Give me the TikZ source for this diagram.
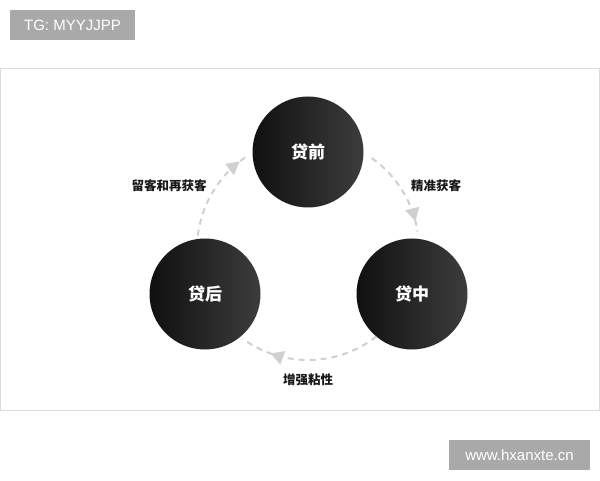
\documentclass[tikz,border=0pt]{standalone}
\usepackage{fontspec}
\setmainfont{Liberation Sans}
\newfontfamily\cjk{Noto Sans CJK SC}
\usetikzlibrary{arrows.meta,decorations.markings}
\definecolor{dashgray}{HTML}{D0D0D0}
\definecolor{framegray}{HTML}{DCDCDC}
\definecolor{tagbg}{HTML}{A9A9A9}
\tikzset{
  stage/.style={circle, minimum size=111pt, inner sep=0pt,
    path picture={\shade[left color=black!94, right color=black!76]
      ([xshift=-2pt,yshift=-2pt]path picture bounding box.south west) rectangle
      ([xshift=2pt,yshift=2pt]path picture bounding box.north east);},
    text=white, font=\cjk\bfseries\fontsize{17}{19}\selectfont},
  lbl/.style={font=\cjk\bfseries\fontsize{12.5}{14}\selectfont, text=black!90},
  tag/.style={fill=tagbg, text=white, inner sep=0pt, minimum height=30pt, font=\fontsize{15}{17}\selectfont},
  flowarc/.style={draw=dashgray, line width=2pt, dash pattern=on 6pt off 5pt},
  tipat/.style={postaction={decorate}, decoration={markings,
    mark=at position #1 with {\arrow[dashgray]{Triangle[length=13pt,width=14pt]}}}}
}
\begin{document}
\begin{tikzpicture}[x=1pt,y=1pt]
\useasboundingbox (0,0) rectangle (600,480);
\fill[white] (0,0) rectangle (600,480);
\draw[framegray, line width=1pt] (0.5,69.5) rectangle (599.5,411.5);
\node[tag, minimum width=125pt] (tg) at (72.5,455) {TG: MYYJJPP};
\node[tag, minimum width=141pt] (www) at (519.5,25) {www.hxanxte.cn};
\coordinate (C) at (308,231);
\node[stage] (pre) at (308,328) {贷前};
\node[stage] (post) at (205,186) {贷后};
\node[stage] (mid) at (412,186) {贷中};
\draw[flowarc, tipat=0.9] ([shift={(173:111pt)}]C) arc[start angle=173, end angle=123, radius=111pt];
\draw[flowarc, tipat=0.88] ([shift={(55:111pt)}]C) arc[start angle=55, end angle=9, radius=111pt];
\draw[flowarc, tipat=0.78] ([shift={(-52:111pt)}]C) arc[start angle=-52, end angle=-126, radius=111pt];
\node[lbl] (l1) at (169,294) {留客和再获客};
\node[lbl] (l2) at (436,294) {精准获客};
\node[lbl] (l3) at (308,100) {增强粘性};
\end{tikzpicture}
\end{document}
